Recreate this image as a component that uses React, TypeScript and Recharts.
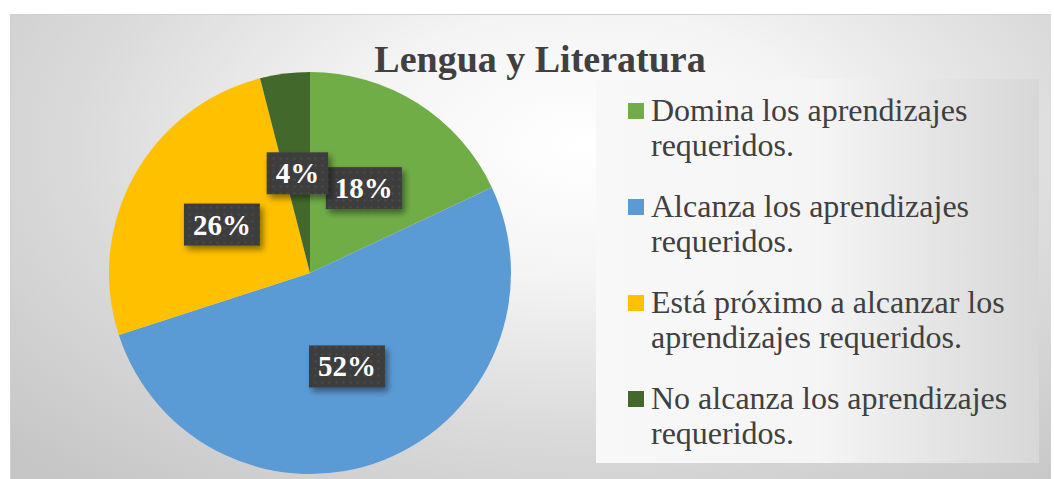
import React from 'react';
import { PieChart, Pie, Cell, Legend } from 'recharts';

const title = 'Lengua y Literatura';
const categories = [
  'Domina los aprendizajes requeridos.',
  'Alcanza los aprendizajes requeridos.',
  'Está próximo a alcanzar los aprendizajes requeridos.',
  'No alcanza los aprendizajes requeridos.',
];
const values = [18, 52, 26, 4];
const colors = ['#70AD47', '#5B9BD5', '#FFC000', '#43682B'];

const data = categories.map((name, i) => ({ name, value: values[i] }));

const FONT = "'Liberation Serif', 'Times New Roman', serif";
const RAD = Math.PI / 180;

const renderLabel = (props: any) => {
  const { cx, cy, midAngle, outerRadius, value } = props;
  const r = outerRadius * 0.5;
  const x = cx + r * Math.cos(-midAngle * RAD);
  const y = cy + r * Math.sin(-midAngle * RAD);
  const text = `${value}%`;
  const fs = 29;
  let tw = 0;
  for (const ch of text) tw += ch === '%' ? fs : fs * 0.5;
  const w = tw + 18;
  const h = 42;
  return (
    <g>
      <rect x={x - w / 2} y={y - h / 2} width={w} height={h} fill="url(#lblPattern)" filter="url(#lblShadow)" />
      <text x={x} y={y + 10} textAnchor="middle" fill="#ffffff" fontFamily={FONT} fontWeight="bold" fontSize={fs}>
        {text}
      </text>
    </g>
  );
};

const renderLegend = () => (
  <div
    style={{
      width: 443,
      height: 384,
      boxSizing: 'border-box',
      paddingTop: 14,
      background: 'linear-gradient(to right, #f8f8f8 0%, #f5f5f5 50%, #d7d7d7 100%)',
      fontFamily: FONT,
      fontSize: 32,
      lineHeight: '35px',
      color: '#404040',
    }}
  >
    {categories.map((c, i) => (
      <div key={c} style={{ position: 'relative', paddingLeft: 55, width: 370, marginBottom: 26 }}>
        <div style={{ position: 'absolute', left: 32, top: 10, width: 16, height: 16, background: colors[i] }} />
        {c}
      </div>
    ))}
  </div>
);

export default function App() {
  return (
    <div style={{ position: 'absolute', left: 0, top: 0, width: 1054, height: 479, background: '#ffffff', overflow: 'hidden' }}>
      <div
        style={{
          position: 'absolute',
          left: 10,
          top: 14,
          width: 1040,
          height: 465,
          borderTop: '1px solid #d0d0d0',
          borderLeft: '1px solid #d0d0d0',
          background: 'radial-gradient(ellipse 75% 95% at 55% 28%, #ffffff 0%, #f4f4f4 30%, #dadada 65%, #c6c6c6 100%)',
        }}
      >
        <div
          style={{
            position: 'absolute',
            left: 0,
            width: 1058,
            top: 23,
            textAlign: 'center',
            fontFamily: FONT,
            fontWeight: 'bold',
            fontSize: 38,
            color: '#404040',
            lineHeight: '42px',
          }}
        >
          {title}
        </div>
        <PieChart width={1040} height={465} margin={{ top: 0, right: 0, bottom: 0, left: 0 }}>
          <defs>
            <pattern id="lblPattern" width="7" height="7" patternUnits="userSpaceOnUse">
              <rect width="7" height="7" fill="#3e3e3e" />
              <circle cx="3.5" cy="3.5" r="1" fill="#4c4c4c" />
            </pattern>
            <filter id="lblShadow" x="-30%" y="-30%" width="170%" height="180%">
              <feDropShadow dx="3" dy="4" stdDeviation="3" floodColor="#000" floodOpacity="0.45" />
            </filter>
          </defs>
          <Pie
            data={data}
            dataKey="value"
            nameKey="name"
            cx={299}
            cy={258}
            outerRadius={201}
            startAngle={90}
            endAngle={-270}
            stroke="none"
            label={renderLabel}
            labelLine={false}
            isAnimationActive={false}
          >
            {data.map((d, i) => (
              <Cell key={d.name} fill={colors[i]} />
            ))}
          </Pie>
          <Legend
            layout="vertical"
            align="right"
            verticalAlign="middle"
            content={renderLegend}
            wrapperStyle={{ position: 'absolute', left: 585, top: 64, width: 443, height: 384, right: 'auto', bottom: 'auto' }}
          />
        </PieChart>
      </div>
    </div>
  );
}
